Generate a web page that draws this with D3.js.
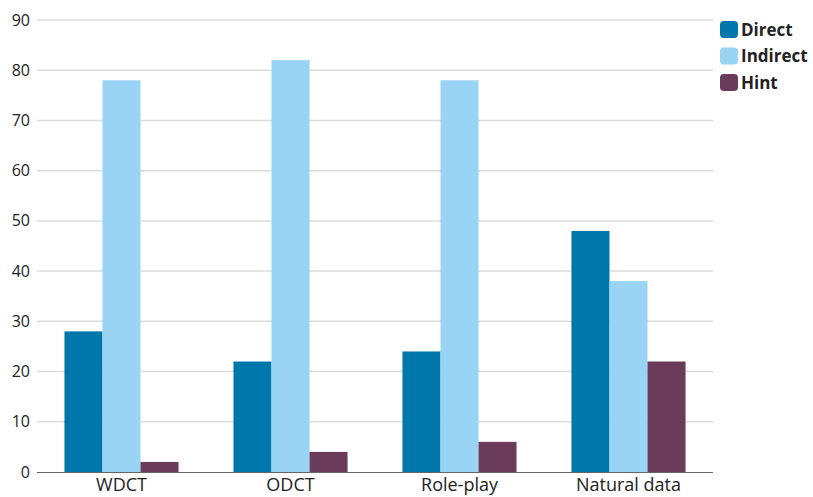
<!DOCTYPE html>
<html>
<head>
<meta charset="utf-8">
<script src="https://cdn.jsdelivr.net/npm/d3@7/dist/d3.min.js"></script>
<style>
  html, body { margin: 0; padding: 0; background: #fff; }
  svg { display: block; font-family: "Open Sans", "Noto Sans", sans-serif; }
</style>
</head>
<body>
<svg id="chart" width="813" height="497"></svg>
<script>
const categories = ["WDCT", "ODCT", "Role-play", "Natural data"];
const seriesNames = ["Direct", "Indirect", "Hint"];
const directValues = [28, 22, 24, 48];
const indirectValues = [78, 82, 78, 38];
const hintValues = [2, 4, 6, 22];
const yTicks = [0, 10, 20, 30, 40, 50, 60, 70, 80, 90];
const colors = ["#0077ab", "#9ad4f4", "#6b3b5a"];

const seriesValues = [directValues, indirectValues, hintValues];

const svg = d3.select("#chart");
const plotLeft = 37, plotRight = 713, plotTop = 20, plotBottom = 472;

const x0 = d3.scaleBand().domain(categories).range([plotLeft, plotRight]).paddingInner(0.325).paddingOuter(0.1625);
const x1 = d3.scaleBand().domain(seriesNames).range([0, x0.bandwidth()]);
const y = d3.scaleLinear().domain([0, 90]).range([plotBottom, plotTop]);

// gridlines
svg.append("g").selectAll("line").data(yTicks.filter(d => d > 0)).join("line")
  .attr("x1", plotLeft).attr("x2", plotRight)
  .attr("y1", d => y(d)).attr("y2", d => y(d))
  .attr("stroke", "#dcdcdc").attr("stroke-width", 1.5);

// y tick labels
svg.append("g").selectAll("text").data(yTicks).join("text")
  .attr("x", 30).attr("y", d => y(d)).attr("dy", "0.35em")
  .attr("text-anchor", "end").attr("font-size", 16).attr("fill", "#222")
  .text(d => d);

// bars
const groups = svg.append("g").selectAll("g").data(categories).join("g")
  .attr("transform", d => `translate(${x0(d)},0)`);
groups.selectAll("rect")
  .data((c, i) => seriesNames.map((s, j) => ({ s, v: seriesValues[j][i], j })))
  .join("rect")
  .attr("x", d => x1(d.s)).attr("width", x1.bandwidth())
  .attr("y", d => y(d.v)).attr("height", d => y(0) - y(d.v))
  .attr("fill", d => colors[d.j]);

// baseline
svg.append("line").attr("x1", plotLeft).attr("x2", plotRight)
  .attr("y1", plotBottom + 0.5).attr("y2", plotBottom + 0.5)
  .attr("stroke", "#666").attr("stroke-width", 1.2);

// category labels
svg.append("g").selectAll("text").data(categories).join("text")
  .attr("x", d => x0(d) + x0.bandwidth() / 2).attr("y", 491)
  .attr("text-anchor", "middle").attr("font-size", 18).attr("fill", "#222")
  .text(d => d);

// legend
const legend = svg.append("g").selectAll("g").data(seriesNames).join("g")
  .attr("transform", (d, i) => `translate(720,${21 + i * 26.5})`);
legend.append("rect").attr("width", 18).attr("height", 17).attr("rx", 4)
  .attr("fill", (d, i) => colors[i]);
legend.append("text").attr("x", 21).attr("y", 9).attr("dy", "0.35em")
  .attr("font-size", 17).attr("font-weight", "bold").attr("fill", "#222")
  .text(d => d);
</script>
</body>
</html>
